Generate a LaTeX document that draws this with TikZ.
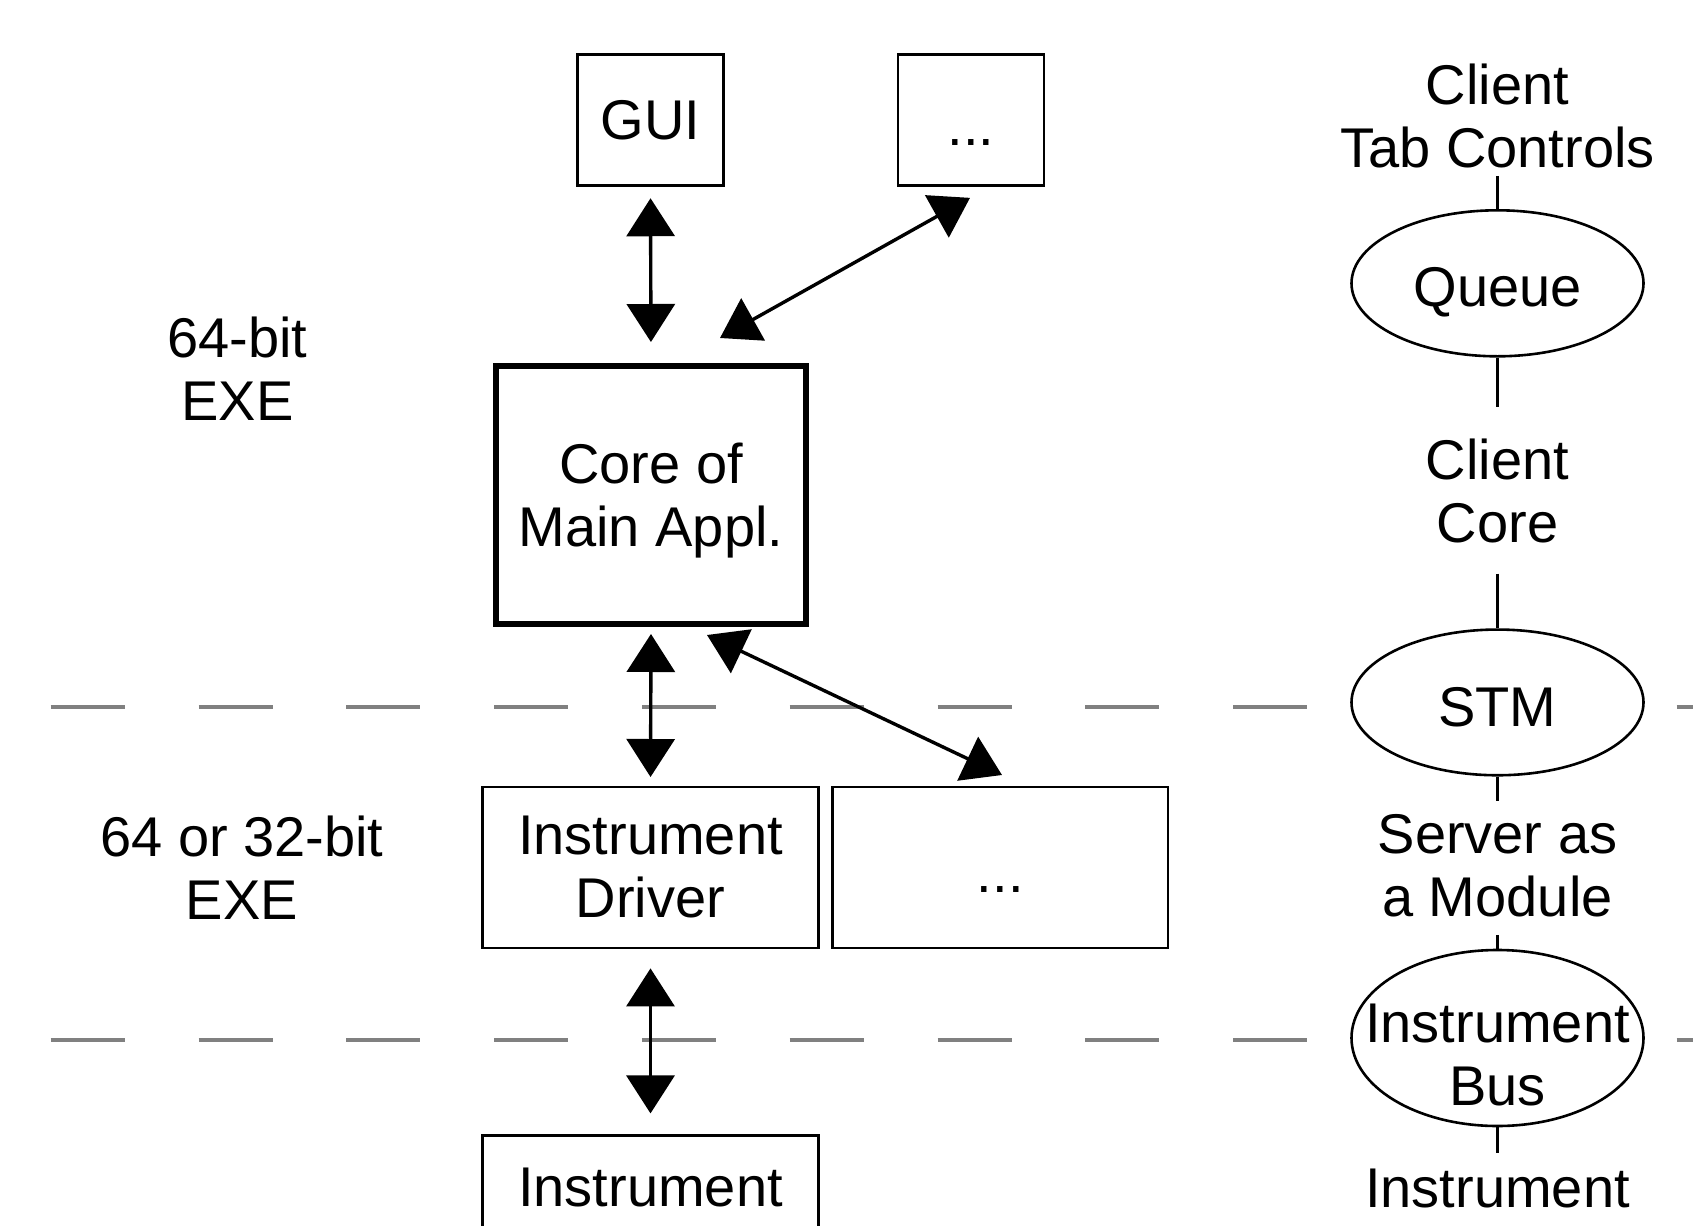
\documentclass[tikz,border=0pt]{standalone}
\usepackage{fontspec}
\setmainfont{Liberation Sans}
\usetikzlibrary{arrows.meta,shapes.geometric,calc}
\definecolor{sepgray}{HTML}{808080}
\begin{document}
\begin{tikzpicture}[x=0.5pt,y=-0.5pt,
  every node/.style={font=\fontsize{28pt}{31.5pt}\selectfont, align=center, inner sep=0pt},
  box/.style={draw, line width=1.4pt, fill=white, rectangle},
  bigbox/.style={draw, line width=3pt, fill=white, rectangle},
  arr/.style={line width=1.7pt, {Triangle[length=19pt,width=24pt]}-{Triangle[length=19pt,width=24pt]}},
  conn/.style={line width=1.5pt},
  oval/.style={draw, ellipse, line width=1.3pt, fill=white, minimum width=146pt},
  sepline/.style={draw=sepgray, line width=2pt, dash pattern=on 37pt off 36.9pt}]
\useasboundingbox (0,0) rectangle (1693,1226);
% separator lines
\draw[sepline] (50.7,707) -- (1700,707);
\draw[sepline] (50.7,1040) -- (1700,1040);
% boxes
\node[box, minimum width=72.9pt, minimum height=65.85pt] (gui) at (650.5,120) {GUI};
\node[box, minimum width=73pt, minimum height=65.85pt, text height=25.4pt, text depth=0pt] (dotsA) at (971,120) {...};
\node[bigbox, minimum width=155pt, minimum height=129pt, text depth=0pt] (core) at (651,495) {Core of\\Main Appl.};
\node[box, minimum width=167.9pt, minimum height=80.5pt] (driver) at (650.5,867.5) {Instrument\\Driver};
\node[box, minimum width=167.75pt, minimum height=80.5pt, text height=25.4pt, text depth=0pt] (dotsB) at (1000.3,867.5) {...};
\node[box, anchor=north, minimum width=167.9pt, inner ysep=15.75pt, text height=20pt, text depth=40pt] (instr) at (650.5,1134) {Instrument};
% left labels
\node (lbl64) at (237.5,369) {64-bit\\EXE};
\node (lbl32) at (242,868) {64 or 32-bit\\EXE};
% right column
\node (tabctl) at (1497.5,115.5) {Client\\Tab Controls};
\node[oval, minimum height=73pt, text height=22.7pt, text depth=0pt] (queue) at (1497.5,283.3) {Queue};
\node (ccore) at (1497.5,491) {Client\\Core};
\node[oval, minimum height=72.85pt, text height=24.3pt, text depth=0pt] (stm) at (1497.5,702.4) {STM};
\node (server) at (1497.5,866) {Server as\\a Module};
\node[oval, minimum height=88pt] (bus) at (1497.5,1038) {};
\node (bustext) at (1497.5,1055) {Instrument\\Bus};
\node (instrR) at (1497.5,1188) {Instrument};
% right connectors
\draw[conn, shorten <=3.9pt] (tabctl.south) -- (queue.north);
\draw[conn, shorten >=15.6pt] (queue.south) -- (ccore.north);
\draw[conn, shorten <=15.1pt] (ccore.south) -- (stm.north);
\draw[conn, shorten >=6.6pt] (stm.south) -- (server.north);
\draw[conn, shorten <=8.6pt] (server.south) -- (bus.north);
\draw[conn, shorten >=7.4pt] (bus.south) -- (instrR.north);
% arrows
\draw[arr, shorten <=5.5pt, shorten >=10.5pt] (gui.south) -- (core.north);
\draw[arr] ($(dotsA.south)+(-1,10.6)$) -- ($(core.north)+(69,-25)$);
\draw[arr, shorten <=3.5pt, shorten >=4.3pt] (core.south) -- (driver.north);
\draw[arr] ($(core.south)+(56,8)$) -- ($(dotsB.north)+(1.7,-10.6)$);
\draw[arr, shorten <=9.5pt, shorten >=10.3pt] (driver.south) -- (instr.north);
\end{tikzpicture}
\end{document}
